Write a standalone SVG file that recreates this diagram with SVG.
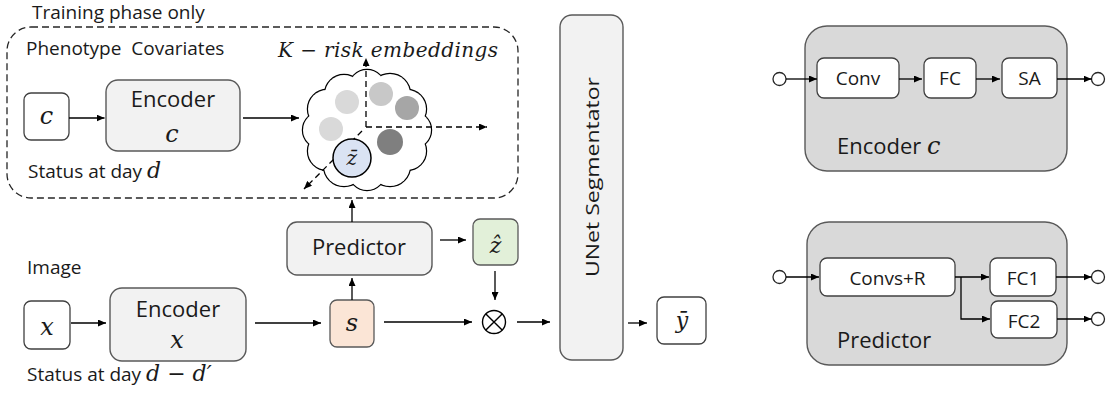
<svg xmlns="http://www.w3.org/2000/svg" width="1115" height="396" viewBox="0 0 1115 396">
<style>
  .lbl{font-family:"Open Sans","Liberation Sans",sans-serif;font-size:19px;fill:#1a1a1a}
  .big{font-size:22px}
  .m{font-family:"DejaVu Serif","Liberation Serif",serif;font-style:italic;fill:#1a1a1a}
  .box{fill:#f2f2f2;stroke:#595959;stroke-width:1.4}
  .sbox{fill:#fff;stroke:#404040;stroke-width:1.3}
  .ln{fill:none;stroke:#000;stroke-width:1.3}
  .dash{stroke-dasharray:6 4}
  .panel{fill:#d9d9d9;stroke:#595959;stroke-width:1.4}
  .port{fill:#fff;stroke:#262626;stroke-width:1.3}
  .bump{fill:#fff;stroke:#000;stroke-width:2.4}
  .fillw{fill:#fff;stroke:none}
</style>
<defs>
  <marker id="ah" markerWidth="8" markerHeight="7" refX="8" refY="3.5" orient="auto" markerUnits="userSpaceOnUse">
    <path d="M0,0 L8,3.5 L0,7 z" fill="#000"/>
  </marker>
</defs>

<!-- training-only region -->
<g id="training-region">
  <text class="lbl" x="32" y="19" font-size="18">Training phase only</text>
  <rect x="7" y="27" width="511" height="171" rx="24" fill="none" stroke="#262626" stroke-width="1.3" stroke-dasharray="7 4"/>
  <text class="lbl" x="26" y="55" xml:space="preserve">Phenotype  Covariates</text>
  <text class="lbl" x="28" y="178">Status at day <tspan class="m" font-size="22">d</tspan></text>
  <text class="m" x="278" y="57" font-size="20" textLength="220" lengthAdjust="spacing">K − risk embeddings</text>
</g>

<g id="node-c">
  <rect class="sbox" x="24" y="93" width="45" height="47" rx="7"/>
  <text class="m" x="46.5" y="124" font-size="24" text-anchor="middle">c</text>
</g>

<g id="node-encoder-c">
  <rect class="box" x="106" y="80" width="134" height="71" rx="12"/>
  <text class="lbl big" x="173" y="107" text-anchor="middle">Encoder</text>
  <text class="m" x="172" y="142" font-size="24" text-anchor="middle">c</text>
</g>

<!-- embedding cloud -->
<g id="node-embeddings">
  <g>
    <circle class="bump" cx="413" cy="130" r="18"/>
    <circle class="bump" cx="407" cy="109" r="19"/>
    <circle class="bump" cx="390" cy="94" r="20"/>
    <circle class="bump" cx="367" cy="88" r="18"/>
    <circle class="bump" cx="344" cy="94" r="19"/>
    <circle class="bump" cx="327" cy="109" r="19"/>
    <circle class="bump" cx="321" cy="130" r="18"/>
    <circle class="bump" cx="327" cy="151" r="19"/>
    <circle class="bump" cx="344" cy="166" r="20"/>
    <circle class="bump" cx="367" cy="172" r="18"/>
    <circle class="bump" cx="390" cy="166" r="20"/>
    <circle class="bump" cx="407" cy="151" r="19"/>
  </g>
  <g>
    <circle class="fillw" cx="413" cy="130" r="18"/>
    <circle class="fillw" cx="407" cy="109" r="19"/>
    <circle class="fillw" cx="390" cy="94" r="20"/>
    <circle class="fillw" cx="367" cy="88" r="18"/>
    <circle class="fillw" cx="344" cy="94" r="19"/>
    <circle class="fillw" cx="327" cy="109" r="19"/>
    <circle class="fillw" cx="321" cy="130" r="18"/>
    <circle class="fillw" cx="327" cy="151" r="19"/>
    <circle class="fillw" cx="344" cy="166" r="20"/>
    <circle class="fillw" cx="367" cy="172" r="18"/>
    <circle class="fillw" cx="390" cy="166" r="20"/>
    <circle class="fillw" cx="407" cy="151" r="19"/>
    <ellipse class="fillw" cx="367" cy="130" rx="46" ry="42"/>
  </g>
  <circle cx="347" cy="102" r="12" fill="#d9d9d9"/>
  <circle cx="331" cy="129" r="12" fill="#d9d9d9"/>
  <circle cx="381" cy="94" r="12" fill="#c8c8c8"/>
  <circle cx="407" cy="108" r="12" fill="#a6a6a6"/>
  <circle cx="390" cy="142" r="13" fill="#7f7f7f"/>
</g>

<g id="node-x">
  <rect class="sbox" x="24" y="301" width="46" height="48" rx="7"/>
  <text class="m" x="47" y="335" font-size="24" text-anchor="middle">x</text>
</g>

<g id="node-encoder-x">
  <rect class="box" x="110" y="288" width="136" height="73" rx="12"/>
  <text class="lbl big" x="178" y="317" text-anchor="middle">Encoder</text>
  <text class="m" x="177" y="348" font-size="24" text-anchor="middle">x</text>
</g>

<g id="labels-image">
  <text class="lbl" x="27" y="274">Image</text>
  <text class="lbl" x="27" y="381">Status at day <tspan class="m" font-size="22">d − d′</tspan></text>
</g>

<g id="node-s">
  <rect x="330" y="300" width="44" height="47" rx="7" fill="#fbe5d6" stroke="#595959" stroke-width="1.3"/>
  <text class="m" x="352" y="331" font-size="24" text-anchor="middle">s</text>
</g>

<g id="node-predictor">
  <rect class="box" x="287" y="222" width="145" height="53" rx="10"/>
  <text class="lbl big" x="359" y="255" text-anchor="middle">Predictor</text>
</g>

<g id="node-zhat">
  <rect x="473" y="219" width="45" height="46" rx="7" fill="#e2f0d9" stroke="#595959" stroke-width="1.3"/>
  <text class="m" x="495.5" y="253" font-size="22" text-anchor="middle">ẑ</text>
</g>

<g id="node-product">
  <circle cx="494" cy="322" r="11.5" fill="#fff" stroke="#000" stroke-width="1.4"/>
  <path d="M485.9,313.9 L502.1,330.1 M502.1,313.9 L485.9,330.1" stroke="#000" stroke-width="1.4"/>
</g>

<g id="node-unet">
  <rect class="box" x="560" y="15" width="63" height="345" rx="12"/>
  <text class="lbl" font-size="24" transform="translate(599,177) rotate(-90)" text-anchor="middle" textLength="200" lengthAdjust="spacingAndGlyphs">UNet Segmentator</text>
</g>

<g id="node-ybar">
  <rect class="sbox" x="657" y="297" width="49" height="47" rx="7"/>
  <text class="m" x="682" y="328" font-size="22" text-anchor="middle">ȳ</text>
</g>

<!-- detail: Encoder c -->
<g id="panel-encoder-c">
  <rect class="panel" x="805" y="26" width="262" height="145" rx="22"/>
  <rect class="sbox" x="817" y="58" width="82" height="40" rx="7"/>
  <text class="lbl" x="858" y="85" text-anchor="middle">Conv</text>
  <rect class="sbox" x="924" y="58" width="52" height="40" rx="7"/>
  <text class="lbl" x="950" y="85" text-anchor="middle">FC</text>
  <rect class="sbox" x="1002" y="58" width="55" height="40" rx="7"/>
  <text class="lbl" x="1029.5" y="85" text-anchor="middle">SA</text>
  <text class="lbl big" x="837" y="154">Encoder <tspan class="m" font-size="24">c</tspan></text>
  <circle class="port" cx="779.5" cy="79" r="6.5"/>
  <circle class="port" cx="1098" cy="79" r="6.5"/>
</g>

<!-- detail: Predictor -->
<g id="panel-predictor">
  <rect class="panel" x="807" y="222" width="260" height="143" rx="22"/>
  <rect class="sbox" x="820" y="258" width="135" height="38" rx="7"/>
  <text class="lbl" x="887.5" y="285" text-anchor="middle">Convs+R</text>
  <rect class="sbox" x="990" y="258" width="66" height="38" rx="7"/>
  <text class="lbl" x="1023" y="285" text-anchor="middle">FC1</text>
  <rect class="sbox" x="991" y="301" width="66" height="37" rx="7"/>
  <text class="lbl" x="1024" y="328" text-anchor="middle">FC2</text>
  <text class="lbl big" x="837" y="348">Predictor</text>
  <circle class="port" cx="779.5" cy="277" r="6.5"/>
  <circle class="port" cx="1098" cy="277" r="6.5"/>
  <circle class="port" cx="1098" cy="319" r="6.5"/>
</g>

<g id="connectors">
  <path class="ln" d="M69,118 H104.5" marker-end="url(#ah)"/>
  <path class="ln" d="M243,118 H299" marker-end="url(#ah)"/>
  <path class="ln dash" d="M366,127 V58" marker-end="url(#ah)"/>
  <path class="ln dash" d="M366,127 H487" marker-end="url(#ah)"/>
  <path class="ln dash" d="M362,131 L304,189" marker-end="url(#ah)"/>
  <path class="ln" d="M352,222 V200" marker-end="url(#ah)"/>
  <path class="ln" d="M71,323 H106" marker-end="url(#ah)"/>
  <path class="ln" d="M255,323 H321" marker-end="url(#ah)"/>
  <path class="ln" d="M352,300 V278" marker-end="url(#ah)"/>
  <path class="ln" d="M440,240 H466" marker-end="url(#ah)"/>
  <path class="ln" d="M495,271 V300" marker-end="url(#ah)"/>
  <path class="ln" d="M384,322 H472" marker-end="url(#ah)"/>
  <path class="ln" d="M517,322 H550" marker-end="url(#ah)"/>
  <path class="ln" d="M628,323 H647" marker-end="url(#ah)"/>
  <path class="ln" d="M786,79 H817" marker-end="url(#ah)"/>
  <path class="ln" d="M899,79 H922" marker-end="url(#ah)"/>
  <path class="ln" d="M976,79 H1000" marker-end="url(#ah)"/>
  <path class="ln" d="M1057,79 H1091.5" marker-end="url(#ah)"/>
  <path class="ln" d="M786,277 H819" marker-end="url(#ah)"/>
  <path class="ln" d="M955,277 H989" marker-end="url(#ah)"/>
  <path class="ln" d="M961,277 V319 H990" marker-end="url(#ah)"/>
  <path class="ln" d="M1056,277 H1091.5" marker-end="url(#ah)"/>
  <path class="ln" d="M1057,319 H1091.5" marker-end="url(#ah)"/>
</g>

<!-- latent marker sits above the embedding axes -->
<g id="node-zbar">
  <circle cx="352" cy="158" r="19" fill="#dae3f3" stroke="#000" stroke-width="1.5"/>
  <text class="m" x="346.5" y="165" font-size="20">z<tspan dx="-9.5">¯</tspan></text>
</g>
</svg>
